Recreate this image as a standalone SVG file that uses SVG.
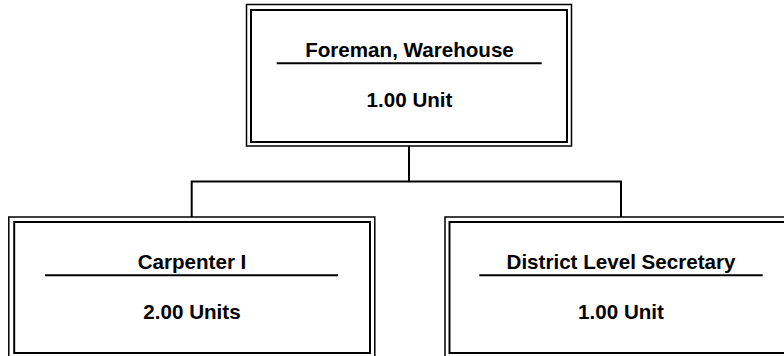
<svg xmlns="http://www.w3.org/2000/svg" width="784" height="356" viewBox="0 0 784 356">
<style>
.outer{fill:none;stroke:#000;stroke-width:1.5}
.inner{fill:none;stroke:#000;stroke-width:2}
.rule{stroke:#000;stroke-width:2}
.conn{fill:none;stroke:#000;stroke-width:2}
text{font-family:"Liberation Sans",Arial,sans-serif;font-weight:bold;font-size:20.6px;text-anchor:middle;fill:#000}
</style>
<rect x="0" y="0" width="784" height="356" fill="#fff"/>
<g id="connectors">
<path class="conn" d="M409,146 V181.5 M191.7,217 V181.5 H621 V217"/>
</g>
<g id="foreman">
<rect class="outer" x="246.5" y="4.5" width="325" height="141.5"/>
<rect class="inner" x="251" y="10" width="316" height="132"/>
<text x="409.5" y="57.3">Foreman, Warehouse</text>
<line class="rule" x1="276.7" y1="63.3" x2="541.7" y2="63.3"/>
<text x="409.5" y="106.7">1.00 Unit</text>
</g>
<g id="carpenter">
<rect class="outer" x="8.8" y="217" width="366" height="141"/>
<rect class="inner" x="14.2" y="222" width="355.8" height="131"/>
<text x="192" y="269">Carpenter I</text>
<line class="rule" x1="45" y1="275.3" x2="338" y2="275.3"/>
<text x="192" y="319">2.00 Units</text>
</g>
<g id="secretary">
<rect class="outer" x="445" y="217" width="352" height="141"/>
<rect class="inner" x="449.5" y="222" width="343" height="131"/>
<text x="621" y="269">District Level Secretary</text>
<line class="rule" x1="479.3" y1="275.3" x2="762.7" y2="275.3"/>
<text x="621" y="319">1.00 Unit</text>
</g>
</svg>
